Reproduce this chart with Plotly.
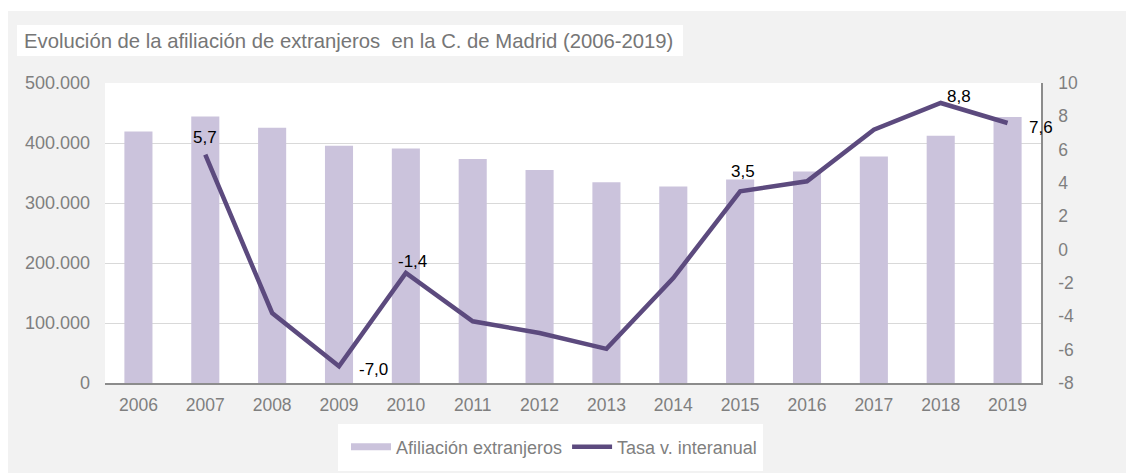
import plotly.graph_objects as go

years = ["2006", "2007", "2008", "2009", "2010", "2011", "2012",
         "2013", "2014", "2015", "2016", "2017", "2018", "2019"]
afiliacion = [419000, 444000, 425500, 395500, 391000, 373500, 355000,
              334500, 327500, 339000, 352500, 377500, 412000, 443500]
tasa = [None, 5.7, -3.8, -7.0, -1.4, -4.3, -5.0,
        -5.95, -1.7, 3.5, 4.1, 7.2, 8.8, 7.6]
labeled_years = ["2007", "2009", "2010", "2015", "2018", "2019"]
left_ticks = [0, 100000, 200000, 300000, 400000, 500000]
right_ticks = [-8, -6, -4, -2, 0, 2, 4, 6, 8, 10]
right_ticktext = [str(v) for v in right_ticks]

# label placement (style): (xanchor, xshift, yshift)
label_style = {
    "2007": ("center", 0, 17),
    "2009": ("left", 18, -3),
    "2010": ("center", 7, 12),
    "2015": ("center", 3, 20),
    "2018": ("center", 18, 7),
    "2019": ("left", 19, -4),
}

BAR_COLOR = "#cbc3dc"
LINE_COLOR = "#5c4a7e"
GRAY_TXT = "#7f7f7f"
FONT = "Liberation Sans, Arial, sans-serif"

OFF = 8  # page body margin
W, H = 1134 - OFF, 475 - 2 * OFF + 6
L, R, T = 105 - OFF, 1134 - 1041, 83 - OFF
B = H - (383 - OFF)
PW, PH = W - L - R, H - T - B


def px_x(x):
    return (x - OFF - L) / PW


def px_y(y):
    return (H - B - (y - OFF)) / PH


def fmt(v):
    return f"{v:.1f}".replace(".", ",")


fig = go.Figure()
fig.add_trace(go.Bar(
    x=years, y=afiliacion, name="Afiliación extranjeros",
    marker=dict(color=BAR_COLOR, line=dict(width=0)),
    showlegend=False, yaxis="y",
))
# legend proxy for bars (wide swatch)
fig.add_trace(go.Scatter(
    x=[years[0]], y=[None], mode="lines", name="Afiliación extranjeros",
    line=dict(color=BAR_COLOR, width=7), yaxis="y",
))
fig.add_trace(go.Scatter(
    x=years, y=tasa, name="Tasa v. interanual", mode="lines",
    line=dict(color=LINE_COLOR, width=4.5),
    yaxis="y2", connectgaps=False, cliponaxis=False,
))

annotations = []
for i, (yr, v) in enumerate(zip(years, tasa)):
    if yr in labeled_years and v is not None:
        xa, xs, ys = label_style[yr]
        annotations.append(dict(
            x=i, y=v, xref="x", yref="y2", text=fmt(v), showarrow=False,
            xanchor=xa, yanchor="middle", xshift=xs, yshift=ys,
            font=dict(family=FONT, size=17, color="#000000"),
        ))

annotations.append(dict(
    text="Evolución de la afiliación de extranjeros\u00a0 en la C. de Madrid (2006-2019)",
    xref="paper", yref="paper", x=px_x(22), y=px_y(41), xanchor="left", yanchor="middle",
    showarrow=False, font=dict(family=FONT, size=20.3, color="#767676"),
))

shapes = [
    dict(type="rect", xref="paper", yref="paper", x0=px_x(0), x1=px_x(1134), y0=px_y(0), y1=px_y(11),
         fillcolor="white", line=dict(width=0), layer="below"),
    dict(type="rect", xref="paper", yref="paper", x0=px_x(0), x1=px_x(1134), y0=px_y(473), y1=px_y(480),
         fillcolor="white", line=dict(width=0), layer="below"),
    dict(type="rect", xref="paper", yref="paper", x0=px_x(17), x1=px_x(683), y0=px_y(25), y1=px_y(56),
         fillcolor="white", line=dict(width=0), layer="below"),
    dict(type="rect", xref="paper", yref="paper", x0=px_x(338), x1=px_x(763), y0=px_y(424), y1=px_y(471),
         fillcolor="white", line=dict(width=0), layer="below"),
]

fig.update_layout(
    width=W, height=H,
    margin=dict(l=L, r=R, t=T, b=B, pad=0, autoexpand=False),
    paper_bgcolor="#f2f2f2",
    plot_bgcolor="white",
    separators=",.",
    font=dict(family=FONT, size=17.5, color=GRAY_TXT),
    bargap=0.58,
    shapes=shapes,
    annotations=annotations,
    showlegend=True,
    legend=dict(
        orientation="h", x=px_x(554), xanchor="center", y=px_y(447), yanchor="middle",
        bgcolor="rgba(0,0,0,0)", borderwidth=0, font=dict(family=FONT, size=18, color=GRAY_TXT),
        itemwidth=40, tracegroupgap=0,
    ),
    xaxis=dict(
        type="category", categoryorder="array", categoryarray=years, range=[-0.5, len(years) - 0.5],
        showgrid=False, showline=True, linecolor="#8c8c8c", linewidth=1.5, automargin=False,
        ticks="", tickfont=dict(size=17.5, color=GRAY_TXT), ticklabelstandoff=5,
    ),
    yaxis=dict(
        range=[0, 500000], tickvals=left_ticks, automargin=False,
        tickformat=",d", showgrid=True, gridcolor="#d9d9d9", gridwidth=1,
        zeroline=False, showline=False, ticks="", ticklabelstandoff=14,
        tickfont=dict(size=18, color=GRAY_TXT),
    ),
    yaxis2=dict(
        overlaying="y", side="right", range=[-8, 10], tickvals=right_ticks, ticktext=right_ticktext,
        showgrid=False, zeroline=False, showline=True, linecolor="#8c8c8c", linewidth=1.5,
        automargin=False,
        ticks="", ticklabelstandoff=12, tickfont=dict(size=17.5, color=GRAY_TXT),
    ),
)

fig.write_html("out.html")
